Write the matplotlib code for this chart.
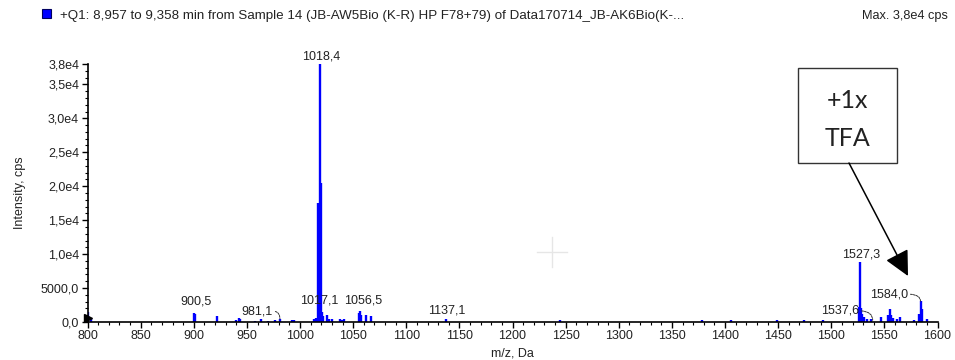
import matplotlib
matplotlib.use('Agg')
import matplotlib.pyplot as plt
from matplotlib.patches import Rectangle, FancyArrowPatch
from matplotlib.lines import Line2D

# peak list (m/z, intensity in cps)
mz = [800.4, 803.5, 900.5, 901.2, 921.5, 939.8, 942.8, 943.8, 957.5, 963.5, 970.3,
      976.2, 981.1, 992.5, 994.5, 1013.5, 1015.5, 1017.1, 1018.4, 1019.4, 1020.5,
      1022.0, 1025.3, 1027.0, 1030.2, 1037.5, 1039.5, 1041.8, 1055.8, 1056.5, 1057.5,
      1062.0, 1066.8, 1137.1, 1244.5, 1378.6, 1405.6, 1448.5, 1474.5, 1492.5,
      1525.8, 1527.3, 1528.3, 1529.3, 1531.0, 1533.5, 1537.6, 1547.0, 1553.8,
      1555.0, 1556.2, 1558.0, 1561.5, 1565.0, 1577.5, 1582.5, 1584.0, 1585.0, 1590.5]
intensity = [1400, 500, 1380, 1200, 880, 340, 640, 500, 100, 490, 150,
             250, 440, 340, 340, 490, 590, 17500, 38000, 20400, 1520,
             880, 1030, 500, 400, 400, 350, 400, 1300, 1620, 980,
             980, 880, 490, 340, 340, 340, 340, 250, 340,
             2200, 8840, 2000, 1200, 700, 500, 400, 740, 1000,
             1950, 1000, 600, 490, 700, 350, 1230, 3050, 1870, 490]

# peak annotations: text, text position, and (for the dashed leaders) the target
labels = ['900,5', '1017,1', '1018,4', '1056,5', '1137,1', '1527,3']
label_x = [902.0, 1018.0, 1019.5, 1059.0, 1138.0, 1527.7]
label_y = [3000, 3100, 39100, 3100, 1650, 10000]

leader_labels = ['981,1', '1537,6', '1584,0']
leader_x = [959.5, 1508.0, 1554.0]
leader_y = [1600, 1650, 4100]
leader_to_x = [981.1, 1539.0, 1584.0]
leader_to_y = [450, 250, 3050]

yticks = [0, 5000, 10000, 15000, 20000, 25000, 30000, 35000, 38000]
yticklabels = ['0,0', '5000,0', '1,0e4', '1,5e4', '2,0e4', '2,5e4', '3,0e4', '3,5e4', '3,8e4']
xticks = list(range(800, 1601, 50))

title = '+Q1: 8,957 to 9,358 min from Sample 14 (JB-AW5Bio (K-R) HP F78+79) of Data170714_JB-AK6Bio(K-...'

plt.rcParams['font.family'] = 'Liberation Sans'
txt = '#222222'
fs = 9

fig = plt.figure(figsize=(9.55, 3.6), dpi=100)
W, H = 955, 360
ax = fig.add_axes([87.5 / W, 38 / H, 850 / W, 258 / H])

ax.vlines(mz, 0, intensity, color='#0000ff', lw=1.7)
ax.plot([800.2], [600], marker='>', color='black', ms=6, clip_on=False)

ax.set_xlim(800, 1600)
ax.set_ylim(0, 38000)
ax.set_xticks(xticks)
ax.set_xticklabels([str(t) for t in xticks])
ax.set_xticks(range(800, 1601, 10), minor=True)
ax.set_yticks(yticks)
ax.set_yticklabels(yticklabels)
ax.set_yticks(range(0, 38001, 1000), minor=True)
for s in ['top', 'right']:
    ax.spines[s].set_visible(False)
for s in ['left', 'bottom']:
    ax.spines[s].set_linewidth(1.2)
ax.tick_params(which='major', direction='out', length=4, width=1, labelsize=fs,
               labelcolor=txt, pad=2)
ax.tick_params(which='minor', direction='out', length=2, width=0.8)
ax.set_xlabel('m/z, Da', fontsize=fs, color=txt, labelpad=4)
ax.set_ylabel('Intensity, cps', fontsize=fs, color=txt, labelpad=11)

for lab, x, y in zip(labels, label_x, label_y):
    ax.text(x, y, lab, ha='center', va='center', fontsize=fs, color=txt, clip_on=False)
for lab, x, y, tx, ty in zip(leader_labels, leader_x, leader_y, leader_to_x, leader_to_y):
    ax.annotate(lab, xy=(tx, ty), xytext=(x, y), ha='center', va='center',
                fontsize=fs, color=txt,
                arrowprops=dict(arrowstyle='-', ls=(0, (2, 1)), lw=0.7, color='#333333',
                                relpos=(1.0, 0.5), shrinkA=0, shrinkB=0,
                                connectionstyle='angle3,angleA=0,angleB=90'))

# header
fig.add_artist(Rectangle((42 / W, 1 - 18 / H), 9 / W, 9 / H, transform=fig.transFigure,
                         fc='#0000ff', ec='#000060', lw=0.8))
fig.text(60 / W, 1 - 16 / H, title, ha='left', va='center', fontsize=9.6, color=txt)
fig.text(948 / W, 1 - 16 / H, 'Max. 3,8e4 cps', ha='right', va='center', fontsize=9.2, color=txt)

# faint cursor cross
fig.add_artist(Line2D([537 / W, 567 / W], [1 - 252 / H, 1 - 252 / H], transform=fig.transFigure,
                      color='#e6e6e6', lw=1))
fig.add_artist(Line2D([552 / W, 552 / W], [1 - 237 / H, 1 - 267 / H], transform=fig.transFigure,
                      color='#e6e6e6', lw=1))

# callout box with arrow
fig.add_artist(Rectangle((798 / W, 1 - 163 / H), 99 / W, 95 / H, transform=fig.transFigure,
                         fc='white', ec='#333333', lw=1))
fig.text(847.5 / W, 1 - 100 / H, '+1x', ha='center', va='center', fontsize=18,
         family='Lato', color='#222222')
fig.text(847.5 / W, 1 - 139 / H, 'TFA', ha='center', va='center', fontsize=18,
         family='Lato', color='#222222')
fig.add_artist(FancyArrowPatch((849 / W, 1 - 163 / H), (908 / W, 1 - 276 / H),
                               transform=fig.transFigure, arrowstyle='-|>,head_length=1.1,head_width=0.55',
                               mutation_scale=14, color='black', lw=1.1, shrinkA=0, shrinkB=0))

fig.savefig('out.png', dpi=100)
